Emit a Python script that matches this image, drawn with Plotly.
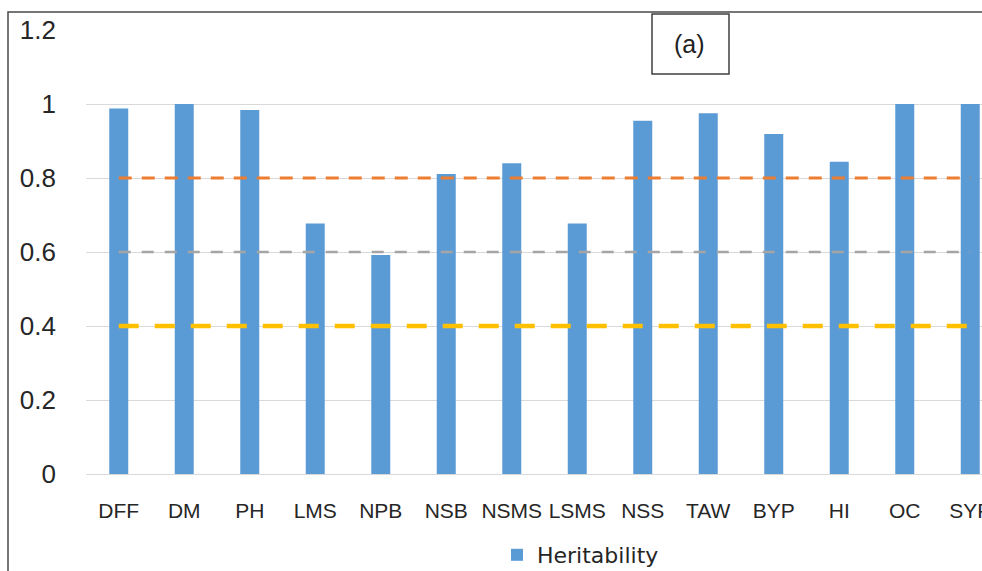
import plotly.graph_objects as go

categories = ["DFF", "DM", "PH", "LMS", "NPB", "NSB", "NSMS", "LSMS",
              "NSS", "TAW", "BYP", "HI", "OC", "SYP"]
heritability = [0.988, 1.0, 0.984, 0.677, 0.592, 0.811, 0.840, 0.677,
                0.955, 0.975, 0.919, 0.844, 1.0, 1.0]
ref_high = 0.8
ref_mid = 0.6
ref_low = 0.4
y_ticks = [0, 0.2, 0.4, 0.6, 0.8, 1, 1.2]
y_tick_labels = ["0", "0.2", "0.4", "0.6", "0.8", "1", "1.2"]

FONT = "Liberation Sans, Arial, sans-serif"
TXT = "#262626"

fig = go.Figure()
fig.add_trace(go.Bar(x=categories, y=heritability, name="Heritability",
                     marker=dict(color="#5B9BD5", line=dict(width=0)),
                     width=0.29))
fig.add_trace(go.Scatter(x=categories, y=[ref_high] * len(categories), mode="lines",
                         line=dict(color="#ED7D31", width=3, dash="13px,10px"),
                         showlegend=False, hoverinfo="skip"))
fig.add_trace(go.Scatter(x=categories, y=[ref_mid] * len(categories), mode="lines",
                         line=dict(color="#A5A5A5", width=2.5, dash="12px,11px"),
                         showlegend=False, hoverinfo="skip"))
fig.add_trace(go.Scatter(x=categories, y=[ref_low] * len(categories), mode="lines",
                         line=dict(color="#FFC000", width=4.5, dash="20px,16px"),
                         showlegend=False, hoverinfo="skip"))

L, T, B = 86, 30, 97
W, H = 982, 571
pw = W - L
ph = H - T - B


def px_x(x):
    return (x - L) / pw


def px_y(y):
    return (H - B - y) / ph


fig.update_layout(
    width=W, height=H,
    margin=dict(l=L, r=0, t=T, b=B, pad=0, autoexpand=False),
    paper_bgcolor="white", plot_bgcolor="white",
    font=dict(family=FONT, color=TXT),
    xaxis=dict(type="category", range=[-0.5, -0.5 + pw / 65.5], automargin=False,
               showgrid=False, showline=True, linecolor="#D9D9D9", linewidth=1,
               tickfont=dict(size=21, color=TXT), ticks="", ticklabelstandoff=18,
               zeroline=False),
    yaxis=dict(range=[0, 1.2], tickvals=y_ticks, ticktext=y_tick_labels,
               automargin=False,
               showgrid=True, gridcolor="#D9D9D9", gridwidth=1,
               zeroline=False, showline=False,
               tickfont=dict(size=26, color=TXT), ticks="", ticklabelstandoff=29),
    legend=dict(orientation="h", x=px_x(497), xanchor="left",
                y=px_y(555), yanchor="middle",
                font=dict(size=22, color=TXT, family="DejaVu Sans, sans-serif"),
                bgcolor="rgba(0,0,0,0)"),
    showlegend=True,
    shapes=[
        dict(type="rect", xref="paper", yref="paper",
             x0=px_x(8), x1=1.3, y0=-0.5, y1=px_y(12),
             line=dict(color="#4a4a4a", width=1.5), fillcolor="rgba(0,0,0,0)",
             layer="above"),
        dict(type="rect", xref="paper", yref="paper",
             x0=px_x(652), x1=px_x(729), y0=px_y(74), y1=px_y(14),
             line=dict(color="#404040", width=1.5), fillcolor="white",
             layer="above"),
    ],
    annotations=[
        dict(text="(a)", xref="paper", yref="paper", x=px_x(689), y=px_y(44),
             showarrow=False, font=dict(size=25, color="#222222", family=FONT),
             xanchor="center", yanchor="middle"),
    ],
)

fig.write_html("out.html",
               config={"displayModeBar": False},
               post_script="document.body.style.margin='0';"
                           "document.body.style.overflow='hidden';")
